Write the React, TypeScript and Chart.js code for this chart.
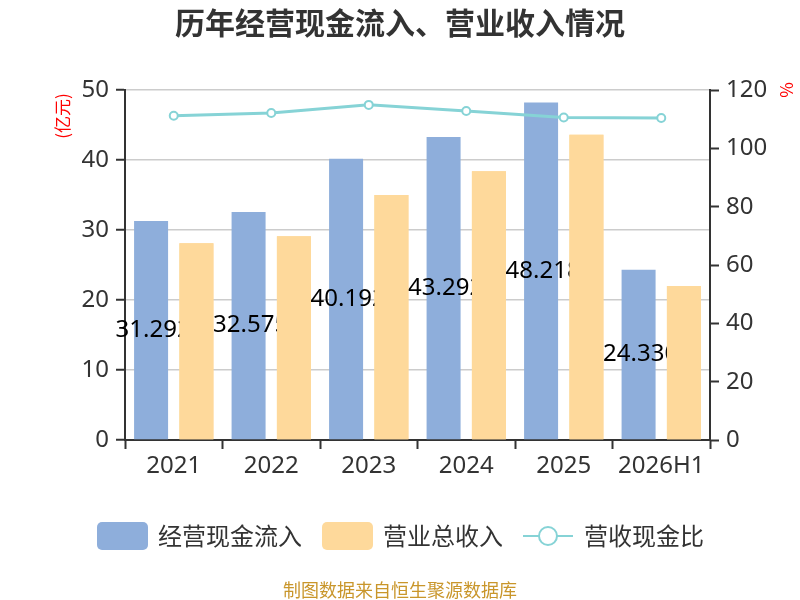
import { useEffect, useRef } from "react";
import Chart from "chart.js/auto";

const years = ["2021", "2022", "2023", "2024", "2025", "2026H1"];
const cashInflow = [31.292, 32.575, 40.192, 43.292, 48.218, 24.33];
const revenue = [28.1, 29.1, 35.0, 38.4, 43.6, 22.0];
const cashRatio = [111.2, 112.1, 114.9, 112.8, 110.6, 110.4];
const leftTicks = [0, 10, 20, 30, 40, 50];
const rightTicks = [0, 20, 40, 60, 80, 100, 120];

const BLUE = "#8eaedb";
const ORANGE = "#fed99b";
const TEAL = "#86d3d6";
const FONT = "'Noto Sans', 'Noto Sans CJK SC', sans-serif";
const CJK = "'Noto Sans CJK SC', 'Noto Sans', sans-serif";

// value labels on the blue bars; orange bars are drawn again on top so they cover them
const barLabels = {
    id: "barLabels",
    afterDatasetDraw(chart: any, args: any) {
        if (args.index !== 0) return;
        const ctx = chart.ctx;
        ctx.save();
        ctx.font = `24px ${FONT}`;
        ctx.fillStyle = "#000";
        ctx.textAlign = "center";
        ctx.textBaseline = "middle";
        args.meta.data.forEach((bar: any, i: number) => {
            ctx.fillText(cashInflow[i].toFixed(3), bar.x + 2, (bar.y + bar.base) / 2);
        });
        ctx.restore();
        chart.getDatasetMeta(1).data.forEach((el: any) => el.draw(ctx));
    },
};

// title, axis names, legend and footer
const decorations = {
    id: "decorations",
    afterDraw(chart: any) {
        const ctx = chart.ctx;
        ctx.save();
        ctx.fillStyle = "#333";
        ctx.textAlign = "center";
        ctx.textBaseline = "middle";
        ctx.font = `bold 30px ${CJK}`;
        ctx.fillText("历年经营现金流入、营业收入情况", 400, 23);

        ctx.fillStyle = "#ff0000";
        ctx.font = `17px ${CJK}`;
        ctx.save();
        ctx.translate(63, 116);
        ctx.rotate(-Math.PI / 2);
        ctx.fillText("(亿元)", 0, 0);
        ctx.restore();
        ctx.save();
        ctx.translate(787, 90);
        ctx.rotate(-Math.PI / 2);
        ctx.fillText("%", 0, 0);
        ctx.restore();

        // legend
        const ds = chart.data.datasets;
        const ly = 536;
        ctx.font = `24px ${CJK}`;
        ctx.textAlign = "left";
        let x = 97;
        for (let i = 0; i < ds.length; i++) {
            if (ds[i].type === "line") {
                ctx.strokeStyle = ds[i].borderColor;
                ctx.lineWidth = 2;
                ctx.beginPath();
                ctx.moveTo(x, ly);
                ctx.lineTo(x + 50, ly);
                ctx.stroke();
                ctx.beginPath();
                ctx.arc(x + 25, ly, 9, 0, Math.PI * 2);
                ctx.fillStyle = "#fff";
                ctx.fill();
                ctx.stroke();
            } else {
                ctx.fillStyle = ds[i].backgroundColor;
                ctx.beginPath();
                ctx.roundRect(x, ly - 14, 51, 28, 5);
                ctx.fill();
            }
            ctx.fillStyle = "#333";
            ctx.fillText(ds[i].label, x + 61, ly);
            x += 61 + ctx.measureText(ds[i].label).width + 20;
        }

        ctx.textAlign = "center";
        ctx.fillStyle = "#c9962b";
        ctx.font = `18px ${CJK}`;
        ctx.fillText("制图数据来自恒生聚源数据库", 400, 590);
        ctx.restore();
    },
};

function App() {
    const chartRef = useRef<HTMLCanvasElement | null>(null);

    useEffect(() => {
        const ctx = chartRef.current?.getContext("2d");
        if (!ctx) return;

        const chart = new Chart(ctx, {
            type: "bar",
            data: {
                labels: years,
                datasets: [
                    {
                        type: "bar",
                        label: "经营现金流入",
                        data: cashInflow,
                        backgroundColor: BLUE,
                        yAxisID: "y",
                        order: 2,
                        categoryPercentage: 0.93,
                        barPercentage: 0.75,
                    },
                    {
                        type: "bar",
                        label: "营业总收入",
                        data: revenue,
                        backgroundColor: ORANGE,
                        yAxisID: "y",
                        order: 3,
                        categoryPercentage: 0.93,
                        barPercentage: 0.75,
                    },
                    {
                        type: "line",
                        label: "营收现金比",
                        data: cashRatio,
                        borderColor: TEAL,
                        borderWidth: 3,
                        pointRadius: 4,
                        pointBorderWidth: 2,
                        pointBackgroundColor: "#fff",
                        pointBorderColor: TEAL,
                        yAxisID: "y1",
                        order: 1,
                    },
                ] as any,
            },
            options: {
                animation: false,
                responsive: true,
                maintainAspectRatio: false,
                layout: { padding: { left: 0, right: 0, top: 90, bottom: 0 } },
                plugins: {
                    legend: { display: false },
                    title: { display: false },
                    tooltip: { enabled: false },
                },
                scales: {
                    x: {
                        grid: {
                            drawOnChartArea: false,
                            drawTicks: true,
                            tickLength: 9,
                            tickColor: "#333",
                            tickWidth: 2,
                        },
                        border: { color: "#333", width: 2 },
                        ticks: { color: "#333", font: { size: 24, family: FONT }, padding: 3 },
                        afterFit: (s: any) => { s.height = 160; },
                    },
                    y: {
                        position: "left",
                        min: 0,
                        max: 50,
                        afterBuildTicks: (s: any) => { s.ticks = leftTicks.map((v) => ({ value: v })); },
                        grid: {
                            color: "#cccccc",
                            lineWidth: 1.5,
                            tickLength: 9,
                            tickColor: "#333",
                            tickWidth: 2,
                        },
                        border: { color: "#333", width: 2 },
                        ticks: { color: "#333", font: { size: 24, family: FONT }, padding: 7 },
                        afterFit: (s: any) => { s.width = 125; },
                    },
                    y1: {
                        position: "right",
                        min: 0,
                        max: 120,
                        afterBuildTicks: (s: any) => { s.ticks = rightTicks.map((v) => ({ value: v })); },
                        grid: {
                            drawOnChartArea: false,
                            tickLength: 9,
                            tickColor: "#333",
                            tickWidth: 2,
                        },
                        border: { color: "#333", width: 2 },
                        ticks: { color: "#333", font: { size: 24, family: FONT }, padding: 7 },
                        afterFit: (s: any) => { s.width = 90; },
                    },
                },
            },
            plugins: [barLabels, decorations],
        });

        return () => {
            chart.destroy();
        };
    }, []);

    return (
        <div style={{ position: "fixed", left: 0, top: 0, width: 800, height: 600, background: "#fff" }}>
            <canvas ref={chartRef}></canvas>
        </div>
    );
}

export default App;
